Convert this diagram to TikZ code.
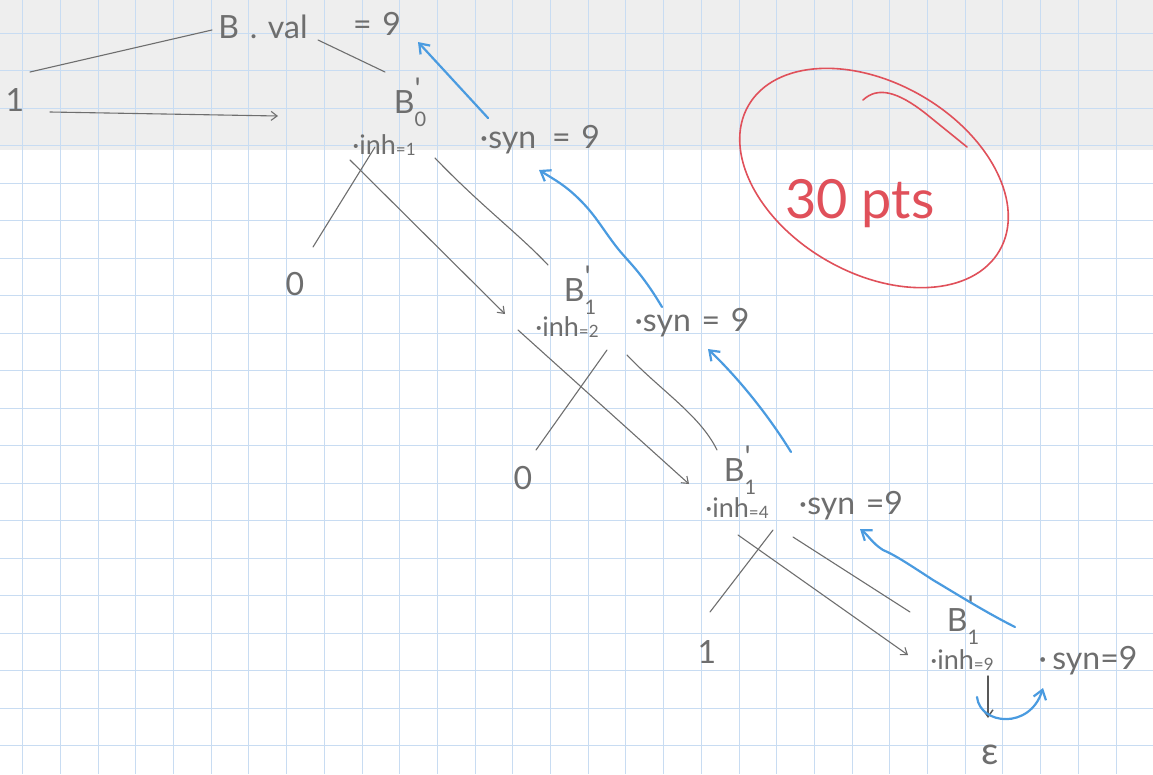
\documentclass[tikz,border=0pt]{standalone}
\usepackage{fontspec}
\setmainfont{Lato}
\usetikzlibrary{arrows.meta}
\definecolor{pencil}{HTML}{6E6E6E}
\definecolor{gridblue}{HTML}{C8DCF2}
\definecolor{inkblue}{HTML}{4A9BE0}
\definecolor{inkred}{HTML}{E0505A}
\definecolor{papershade}{HTML}{EEEEEE}
\newcommand{\fs}[1]{\fontsize{#1}{#1}\selectfont}
\newcommand{\Bprime}[1]{B\rlap{\raisebox{0.45em}{\fs{30}\textquotesingle}}\raisebox{-0.4em}{\fs{20}#1}}
\begin{document}
\begin{tikzpicture}[x=1pt,y=-1pt,
  lbl/.style={text=pencil, inner sep=0pt, font=\fs{32}},
  small/.style={text=pencil, inner sep=0pt, font=\fs{27}},
  pen/.style={draw=pencil, line width=1.1pt, line cap=round},
  penarrow/.style={pen, -{Straight Barb[length=6pt,width=9pt]}},
  bluearrow/.style={draw=inkblue, line width=2.2pt, line cap=round, line join=round, -{Straight Barb[length=9pt,width=13pt]}},
  redink/.style={draw=inkred, line width=1.6pt, line cap=round},
  gridline/.style={draw=gridblue, line width=1pt}]
\useasboundingbox (0,0) rectangle (1153,774);
\fill[white] (0,0) rectangle (1153,774);
\fill[papershade] (0,0) rectangle (1153,150);
% grid paper
\foreach \k in {-9,...,21} \draw[gridline] (362+37.7*\k,0) -- (362+37.7*\k,774);
\foreach \k in {-6,...,13} \draw[gridline] (0,258+37.5*\k) -- (1153,258+37.5*\k);

% labels
\node[lbl] (bval) at (263,27) {B\,\,.\,\,val};
\node[lbl] (eq0) at (377,24) {=\,\,9};
\node[lbl] (one0) at (15,100) {1};
\node[lbl] (b0) at (410,102) {\Bprime{0}};
\node[small] (inh1) at (384,145) {·inh\raisebox{-0.05em}{\fs{17}=1}};
\node[lbl] (syn1) at (540,140) {·syn\,\,\,=\,\,9};
\node[lbl] (zero1) at (295,284) {0};
\node[lbl] (b1a) at (580,290) {\Bprime{1}};
\node[small] (inh2) at (567,327) {·inh\raisebox{-0.05em}{\fs{17}=2}};
\node[lbl] (syn2) at (692,323) {·syn\,\,=\,\,9};
\node[lbl] (zero2) at (523,478) {0};
\node[lbl] (b1b) at (740,470) {\Bprime{1}};
\node[small] (inh4) at (737,508) {·inh\raisebox{-0.05em}{\fs{17}=4}};
\node[lbl] (syn4) at (851,506) {·syn\,\,=9};
\node[lbl] (one3) at (707,652) {1};
\node[lbl] (b1c) at (963,620) {\Bprime{1}};
\node[small] (inh9) at (962,660) {·inh\raisebox{-0.05em}{\fs{17}=9}};
\node[lbl] (syn9) at (1088,661) {·\,syn=9};
\node[lbl, font=\fs{38}] (eps) at (990,755) {ε};

% pencil connector end points
\coordinate (bvalL) at (212,30);
\coordinate (oneT) at (30,72);
\coordinate (bvalR) at (318,40);
\coordinate (b0T) at (385,72);
\coordinate (oneR) at (50,112);
\coordinate (b0L) at (278,116);
\coordinate (inh1a) at (375,147);
\coordinate (zero1T) at (313,247);
\coordinate (inh1b) at (350,160);
\coordinate (inh2L) at (505,314);
\coordinate (syn1L) at (435,158);
\coordinate (b1aT) at (548,265);
\coordinate (inh2a) at (607,350);
\coordinate (zero2T) at (536,450);
\coordinate (inh2b) at (518,330);
\coordinate (inh4L) at (689,484);
\coordinate (syn2L) at (627,355);
\coordinate (b1bT) at (717,450);
\coordinate (inh4a) at (773,530);
\coordinate (one3T) at (710,612);
\coordinate (inh4b) at (738,535);
\coordinate (inh9L) at (908,655);
\coordinate (syn4L) at (793,537);
\coordinate (b1cT) at (910,612);
\coordinate (inh9B) at (988,676);
\coordinate (epsT) at (988,718);

\draw[pen] (oneT) -- (bvalL);
\draw[pen] (bvalR) -- (b0T);
\draw[penarrow] (oneR) -- (b0L);
\draw[pen] (inh1a) -- (zero1T);
\draw[penarrow] (inh1b) -- (inh2L);
\draw[pen] (syn1L) .. controls (480,205) and (520,235) .. (b1aT);
\draw[pen] (inh2a) -- (zero2T);
\draw[penarrow] (inh2b) -- (inh4L);
\draw[pen] (syn2L) .. controls (660,390) and (700,415) .. (b1bT);
\draw[pen] (inh4a) -- (one3T);
\draw[penarrow] (inh4b) -- (inh9L);
\draw[pen] (syn4L) -- (b1cT);
\draw[pen, line width=1.5pt, draw=pencil!80!black, -{Straight Barb[length=7pt,width=10pt]}] (inh9B) -- (epsT);

% blue synthesized-attribute arrows
\coordinate (syn1T) at (488,118);
\coordinate (eq0B) at (418,42);
\coordinate (syn2T) at (662,307);
\coordinate (syn1B) at (539,170);
\coordinate (b1bR) at (791,452);
\coordinate (syn2B) at (708,349);
\coordinate (b1cR) at (1015,627);
\coordinate (syn4B) at (860,529);
\coordinate (inh9E) at (977,697);
\coordinate (syn9B) at (1043,688);

\draw[bluearrow] (syn1T) -- (eq0B);
\draw[bluearrow] (syn2T) .. controls (640,270) and (628,262) .. (615,245)
  .. controls (600,225) and (595,215) .. (580,200) .. controls (565,185) and (555,180) .. (syn1B);
\draw[bluearrow] (b1bR) .. controls (765,410) and (735,375) .. (syn2B);
\draw[bluearrow] (b1cR) .. controls (985,612) and (950,590) .. (933,580)
  .. controls (910,565) and (895,555) .. (883,550) .. controls (872,543) and (868,535) .. (syn4B);
\draw[bluearrow] (inh9E) .. controls (980,725) and (1030,730) .. (syn9B);

% red grade
\draw[redink, rotate around={-30:(874,178)}] (874,178) ellipse [x radius=145, y radius=95];
\draw[redink] (863,100) .. controls (878,86) and (898,92) .. (925,113) -- (967,147);
\node[text=inkred, inner sep=0pt, font=\fs{54}] (grade) at (860,204) {30 pts};
\end{tikzpicture}
\end{document}
